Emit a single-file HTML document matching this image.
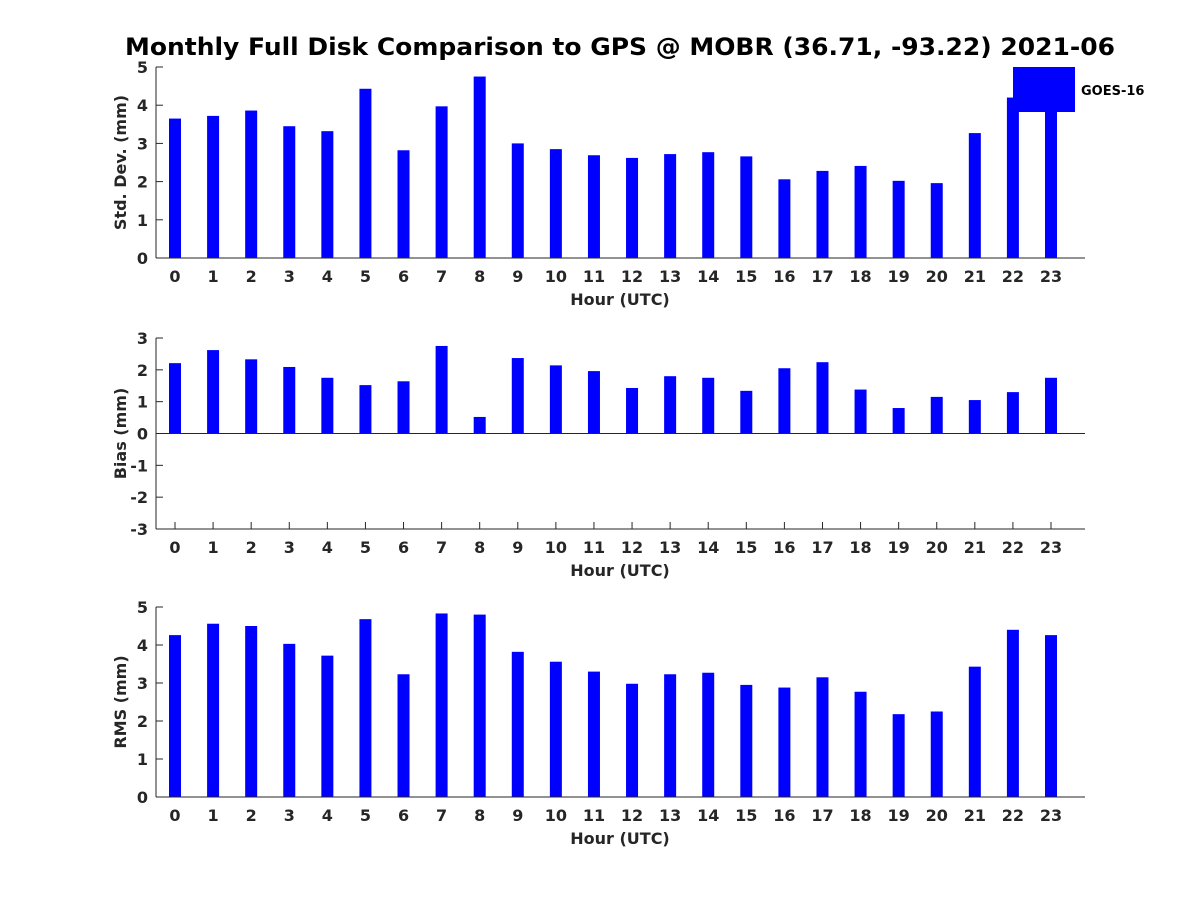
<!DOCTYPE html>
<html><head><meta charset="utf-8"><style>
body{margin:0;background:#fff}
svg{display:block;font-family:"DejaVu Sans","Liberation Sans",sans-serif;font-weight:bold}
</style></head><body>
<svg id="c" width="1200" height="900">
<text x="620" y="55" text-anchor="middle" font-size="24" textLength="990" lengthAdjust="spacingAndGlyphs" fill="#000">Monthly Full Disk Comparison to GPS @ MOBR (36.71, -93.22) 2021-06</text>
</svg>
<script>
const hours = [0,1,2,3,4,5,6,7,8,9,10,11,12,13,14,15,16,17,18,19,20,21,22,23];
const stdValues = [3.65,3.72,3.86,3.45,3.32,4.43,2.82,3.97,4.75,3.0,2.85,2.69,2.62,2.72,2.77,2.66,2.06,2.28,2.41,2.02,1.96,3.27,4.2,4.0];
const biasValues = [2.21,2.62,2.33,2.09,1.75,1.52,1.64,2.75,0.52,2.37,2.14,1.96,1.43,1.8,1.75,1.34,2.05,2.24,1.38,0.8,1.15,1.05,1.3,1.75];
const rmsValues = [4.26,4.56,4.5,4.03,3.72,4.68,3.23,4.83,4.8,3.82,3.56,3.3,2.98,3.23,3.27,2.95,2.88,3.15,2.77,2.18,2.25,3.43,4.4,4.26];
const stdTicks = [0,1,2,3,4,5];
const biasTicks = [-3,-2,-1,0,1,2,3];
const rmsTicks = [0,1,2,3,4,5];
const legendLabel = "GOES-16";

const NS = "http://www.w3.org/2000/svg";
const svg = document.getElementById('c');
function mk(tag, attrs, parent){
  const e = document.createElementNS(NS, tag);
  for (const k in attrs) e.setAttribute(k, attrs[k]);
  (parent||svg).appendChild(e); return e;
}
const X0 = 156, X1 = 1085;
function xs(h){ return 175 + h*(1051-175)/23; }

function panel(name, vals, ticks, top, bottom, ylabel){
  const g = mk('g', {});
  
  
  const lo = ticks[0], hi = ticks[ticks.length-1];
  const ys = v => bottom - (v-lo)*(bottom-top)/(hi-lo);
  const y0 = ys(Math.max(0, lo));
  ticks.forEach(t=>{
    const y = ys(t);
    mk('line', {x1: X0, y1: y, x2: X0+7, y2: y, stroke: '#262626'}, g);
    const tx = mk('text', {x: X0-8, y: y+6, 'text-anchor': 'end', 'font-size': 16, fill: '#262626'}, g);
    tx.textContent = t;
    
    
  });
  hours.forEach(h=>{
    mk('line', {x1: xs(h), y1: bottom, x2: xs(h), y2: bottom-7, stroke: '#262626'}, g);
    const tx = mk('text', {x: xs(h), y: bottom+24, 'text-anchor': 'middle', 'font-size': 16, fill: '#262626'}, g);
    tx.textContent = h;
    
    
  });
  vals.forEach((v,i)=>{
    const ya = ys(v), yb = y0;
    const r = mk('rect', {x: xs(hours[i])-6, y: Math.min(ya,yb), width: 12, height: Math.abs(yb-ya), fill: '#0000ff'}, g);
    
    
  });
  mk('line', {x1: X0, y1: top, x2: X0, y2: bottom, stroke: '#262626', 'stroke-width': 1}, g);
  mk('line', {x1: X0, y1: bottom, x2: X1, y2: bottom, stroke: '#262626', 'stroke-width': 1}, g);
  if (lo < 0) mk('line', {x1: X0, y1: y0, x2: X1, y2: y0, stroke: '#262626', 'stroke-width': 1}, g);
  const xl = mk('text', {x: 620, y: bottom+47, 'text-anchor': 'middle', 'font-size': 16, fill: '#262626'}, g);
  xl.textContent = 'Hour (UTC)';
  
  
  const cy = (top+bottom)/2;
  const yl = mk('text', {x: 0, y: 0, 'text-anchor': 'middle', 'font-size': 16, fill: '#262626', transform: `translate(126,${cy}) rotate(-90)`}, g);
  yl.textContent = ylabel;
  
  
}
panel('std', stdValues, stdTicks, 67, 258, 'Std. Dev. (mm)');
panel('bias', biasValues, biasTicks, 338, 529, 'Bias (mm)');
panel('rms', rmsValues, rmsTicks, 607, 797, 'RMS (mm)');

const lg = mk('g', {});


const lr = mk('rect', {x: 1013, y: 67, width: 62, height: 45, fill: '#0000ff'}, lg);


const lt = mk('text', {x: 1081, y: 95, 'font-size': 13, fill: '#000'}, lg);
lt.textContent = legendLabel;


</script>
</body></html>
